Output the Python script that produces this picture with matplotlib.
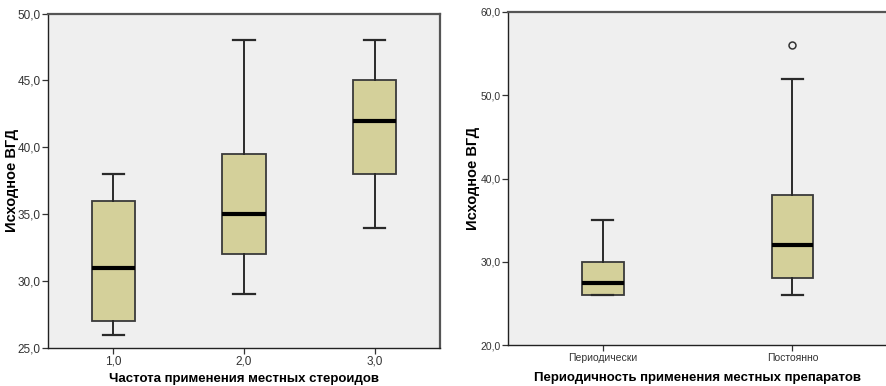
"""Two SPSS-style boxplots of baseline IOP by steroid usage."""

import matplotlib.pyplot as plt

# left panel: frequency of local steroid use
freq_labels = ["1,0", "2,0", "3,0"]
freq_whislo = [26.0, 29.0, 34.0]
freq_q1 = [27.0, 32.0, 38.0]
freq_med = [31.0, 35.0, 42.0]
freq_q3 = [36.0, 39.5, 45.0]
freq_whishi = [38.0, 48.0, 48.0]
freq_fliers = [[], [], []]

# right panel: periodicity of local drug use
period_labels = ["Периодически", "Постоянно"]
period_whislo = [26.0, 26.0]
period_q1 = [26.0, 28.0]
period_med = [27.5, 32.0]
period_q3 = [30.0, 38.0]
period_whishi = [35.0, 52.0]
period_fliers = [[], [56.0]]

BOX_FILL = "#d4d09a"
PANEL_BG = "#efefef"
FRAME = "#555555"
TICK_FONT = ["Liberation Sans Narrow", "Liberation Sans", "DejaVu Sans"]

plt.rcParams["font.family"] = ["Liberation Sans", "DejaVu Sans"]


def make_stats(labels, lo, q1, med, q3, hi, fliers):
    return [
        dict(label=l, whislo=a, q1=b, med=c, q3=d, whishi=e, fliers=f)
        for l, a, b, c, d, e, f in zip(labels, lo, q1, med, q3, hi, fliers)
    ]


def draw(ax, stats, width, ylim, yticks, tick_size, xlabel, xlabel_y, ylabel_x):
    ax.set_facecolor(PANEL_BG)
    ax.bxp(
        stats,
        widths=width,
        patch_artist=True,
        boxprops=dict(facecolor=BOX_FILL, edgecolor="#3a3a3a", linewidth=1.3),
        medianprops=dict(color="black", linewidth=3),
        whiskerprops=dict(color="#2a2a2a", linewidth=1.4),
        capprops=dict(color="#2a2a2a", linewidth=1.6),
        capwidths=width / 2,
        flierprops=dict(marker="o", markerfacecolor="none", markeredgecolor="#333333",
                        markersize=5, markeredgewidth=1.1),
    )
    ax.set_xlim(0.5, len(stats) + 0.5)
    ax.set_ylim(*ylim)
    ax.set_yticks(yticks)
    ax.set_yticklabels([f"{t:.1f}".replace(".", ",") for t in yticks])
    ax.tick_params(labelsize=tick_size, labelcolor="#333333", length=4, width=0.9,
                   color="#333333", pad=1.5)
    for lab in ax.get_xticklabels() + ax.get_yticklabels():
        lab.set_fontfamily(TICK_FONT)
    for side in ("left", "bottom"):
        ax.spines[side].set_color("#222222")
        ax.spines[side].set_linewidth(1.0)
    for side in ("top", "right"):
        ax.spines[side].set_color(FRAME)
        ax.spines[side].set_linewidth(1.6)
    ax.set_ylabel("Исходное ВГД", fontsize=10.5, fontweight="bold", va="center")
    ax.yaxis.set_label_coords(ylabel_x, 0.5)
    ax.set_xlabel(xlabel, fontsize=9.5, fontweight="bold", va="center")
    ax.xaxis.set_label_coords(0.5, xlabel_y)


fig = plt.figure(figsize=(8.86, 3.86), dpi=100)
ax_left = fig.add_axes([0.0542, 0.0984, 0.4424, 0.8666])
ax_right = fig.add_axes([0.5734, 0.106, 0.428, 0.863])

draw(
    ax_left,
    make_stats(freq_labels, freq_whislo, freq_q1, freq_med, freq_q3, freq_whishi, freq_fliers),
    0.33,
    (25, 50),
    [25.0, 30.0, 35.0, 40.0, 45.0, 50.0],
    8.5,
    "Частота применения местных стероидов",
    -0.093,
    -0.092,
)
draw(
    ax_right,
    make_stats(period_labels, period_whislo, period_q1, period_med, period_q3, period_whishi,
               period_fliers),
    0.22,
    (20, 60),
    [20.0, 30.0, 40.0, 50.0, 60.0],
    7.5,
    "Периодичность применения местных препаратов",
    -0.099,
    -0.093,
)

fig.savefig("out.png", dpi=100)
